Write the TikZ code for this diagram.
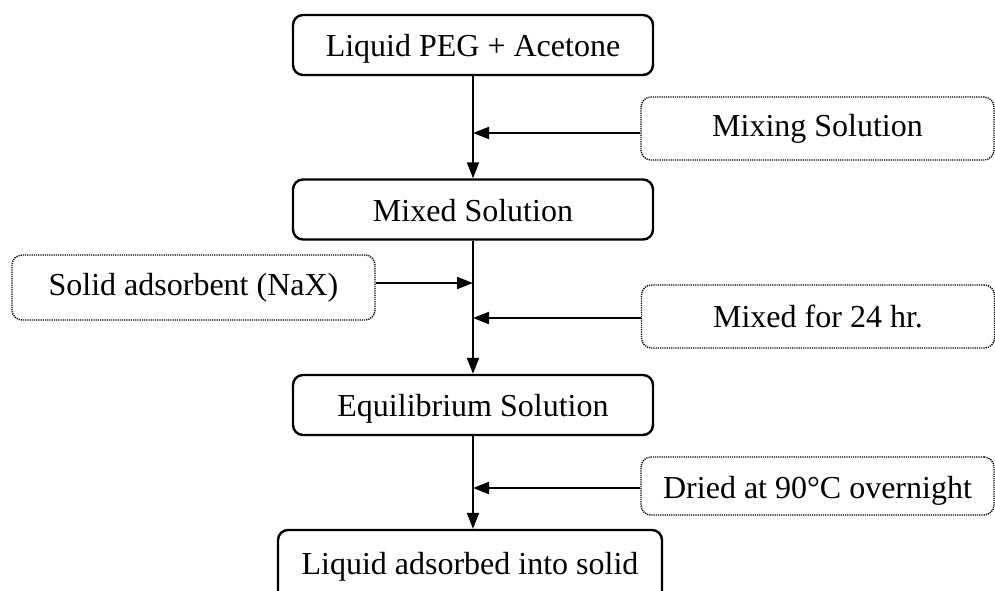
\documentclass[tikz,border=0pt]{standalone}
\usepackage{fontspec}
\setmainfont{Liberation Serif}
\usetikzlibrary{arrows.meta}

\tikzset{
  mainbox/.style={draw, line width=1.2pt, rounded corners=5pt, inner sep=0pt,
    minimum width=180pt, minimum height=30pt, text height=15pt, text depth=3.5pt,
    font=\fontsize{16}{19}\selectfont},
  sidebox/.style={draw, line width=0.7pt, dash pattern=on 0.6pt off 0.5pt,
    rounded corners=5pt, inner sep=0pt, minimum width=176.5pt,
    minimum height=31.5pt, font=\fontsize{16}{19}\selectfont},
  flow/.style={-{Triangle[length=8pt,width=6pt]}, line width=1pt},
}

\begin{document}
\begin{tikzpicture}[x=0.5pt, y=-0.5pt]
  \useasboundingbox (0,0) rectangle (995,590);

  % main steps
  \node[mainbox] (peg) at (473,45) {Liquid PEG + Acetone};
  \node[mainbox] (mixed) at (473,209.5) {Mixed Solution};
  \node[mainbox] (equil) at (473,405) {Equilibrium Solution};
  \node[mainbox, minimum width=192pt, minimum height=36pt, text depth=7pt] (final) at (470,566) {Liquid adsorbed into solid};

  % side inputs
  \node[sidebox] (mixing) at (817.5,128.5) {Mixing Solution};
  \node[sidebox, minimum width=181.5pt, minimum height=32.5pt] (solid) at (193.5,287.5) {Solid adsorbent (NaX)};
  \node[sidebox] (hours) at (818,316.5) {Mixed for 24 hr.};
  \node[sidebox, minimum height=29pt, text height=16pt, text depth=3.5pt] (dried) at (817.5,486) {Dried at 90\textdegree C overnight};

  % joints on the main line
  \coordinate (j1) at (473,133);
  \coordinate (j2) at (473,283);
  \coordinate (j3) at (473,318);
  \coordinate (j4) at (473,488);

  \draw[flow] (peg.south) -- (mixed.north);
  \draw[flow] (mixed.south) -- (equil.north);
  \draw[flow] (equil.south) -- (equil.south |- final.north);

  \draw[flow] (mixing.west |- j1) -- (j1);
  \draw[flow] (solid.east |- j2) -- (j2);
  \draw[flow] (hours.west |- j3) -- (j3);
  \draw[flow] (dried.west |- j4) -- (j4);
\end{tikzpicture}
\end{document}
